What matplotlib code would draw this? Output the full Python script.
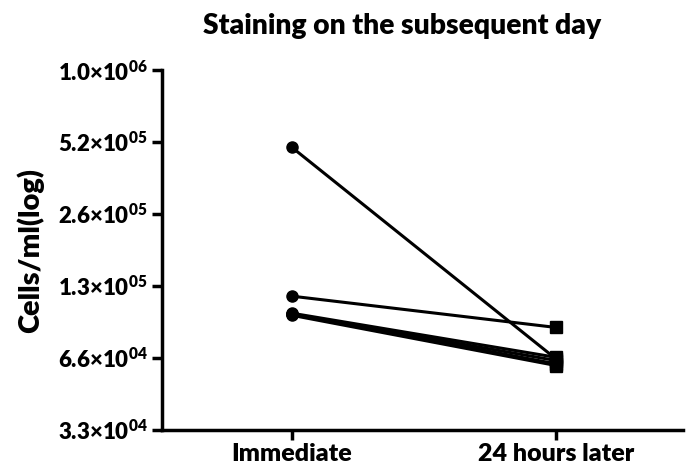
import numpy as np
import matplotlib
matplotlib.use('Agg')
import matplotlib.pyplot as plt

plt.rcParams['font.family'] = ['Lato', 'DejaVu Sans']
plt.rcParams['font.weight'] = 'heavy'
plt.rcParams['mathtext.fontset'] = 'custom'
plt.rcParams['mathtext.rm'] = 'Lato:heavy'
plt.rcParams['mathtext.bf'] = 'Lato:heavy'

# data (cells/ml), one pair per sample
groups = ['Immediate', '24 hours later']
immediate = [5.0e5, 1.19e5, 1.01e5, 1.0e5, 1.0e5, 0.99e5]
later = [6.5e4, 8.8e4, 6.6e4, 6.4e4, 6.2e4, 6.1e4]

tick_vals = [2**15, 2**16, 2**17, 2**18, 2**19, 2**20]
tick_labels = [r'3.3×10$^{04}$', r'6.6×10$^{04}$', r'1.3×10$^{05}$',
               r'2.6×10$^{05}$', r'5.2×10$^{05}$', r'1.0×10$^{06}$']

fig = plt.figure(figsize=(6.94, 4.71), dpi=100)
ax = fig.add_axes([0.2334, 0.087, 0.7506, 0.764])

x = np.arange(len(groups))
for a, b in zip(immediate, later):
    ax.plot(x, [a, b], color='black', lw=2.2, zorder=2)
    ax.plot(x[0], a, 'o', color='black', ms=8, zorder=3)
    ax.plot(x[1], b, 's', color='black', ms=8, zorder=3)

ax.set_yscale('log', base=2)
ax.set_ylim(2**15, 2**20)
ax.set_yticks(tick_vals)
ax.set_yticklabels(tick_labels)
ax.minorticks_off()
ax.set_xlim(-0.49, 1.48)
ax.set_xticks(x)
ax.set_xticklabels(groups)

for s in ['top', 'right']:
    ax.spines[s].set_visible(False)
for s in ['left', 'bottom']:
    ax.spines[s].set_linewidth(2.5)
ax.tick_params(width=2.5, length=7, labelsize=16)
ax.tick_params(axis='x', pad=2, labelsize=18)

ax.set_ylabel('Cells/ml(log)', fontsize=21, fontweight='heavy', labelpad=10)
fig.text(0.58, 0.945, 'Staining on the subsequent day', ha='center', va='center',
         fontsize=20.3, fontweight='heavy')

plt.savefig('out.png', dpi=100)
